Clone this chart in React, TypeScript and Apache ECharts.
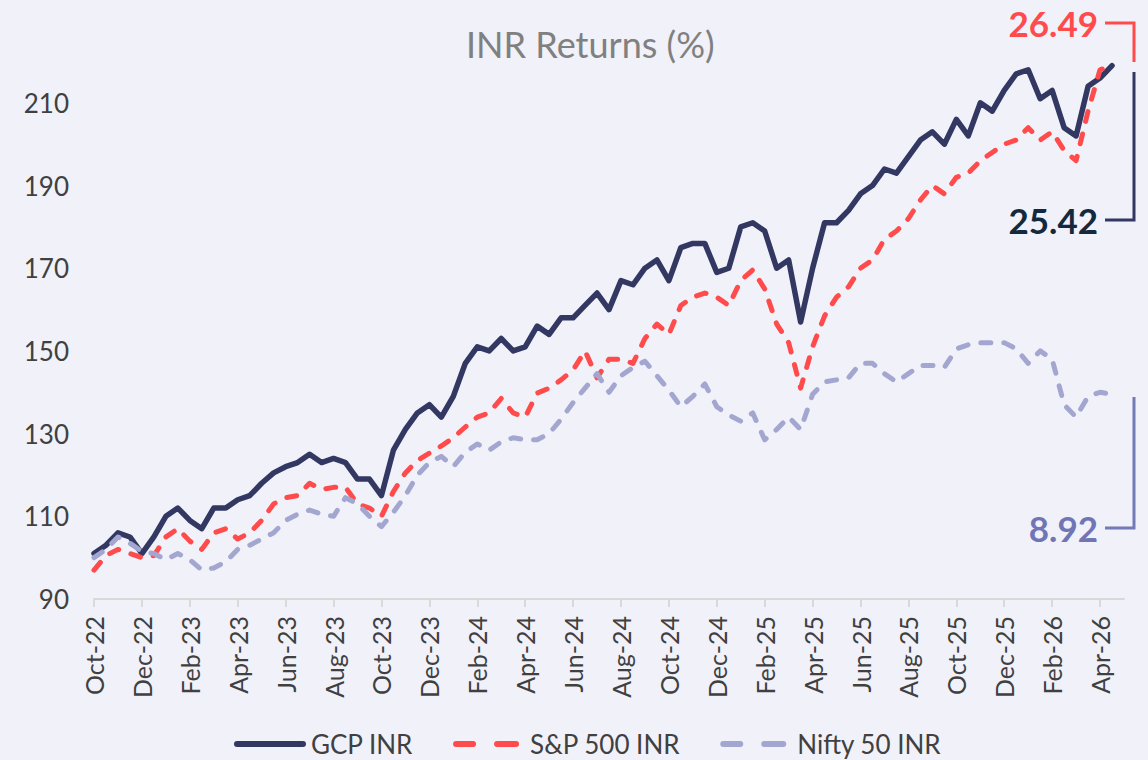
import React, { useEffect, useRef } from "react";
import * as echarts from "echarts";

// x positions: half-month steps starting Oct-2022 (index * 0.5 months)
const STEP_MONTHS = 0.5;

const gcpINR = [
  101, 103, 106, 105, 101, 105, 110, 112, 109, 107,
  112, 112, 114, 115, 118, 120.5, 122, 123, 125, 123,
  124, 123, 119, 119, 115, 126, 131, 135, 137, 134,
  139, 147, 151, 150, 153, 150, 151, 156, 154, 158,
  158, 161, 164, 160, 167, 166, 170, 172, 167, 175,
  176, 176, 169, 170, 180, 181, 179, 170, 172, 157,
  170, 181, 181, 184, 188, 190, 194, 193, 197, 201,
  203, 200, 206, 202, 210, 208, 213, 217, 218, 211,
  213, 204, 202, 214, 216, 219,
];

const sp500INR = [
  97, 100.5, 102, 101, 100, 100.5, 105, 107, 104, 102,
  106, 107, 104.5, 106, 109, 113, 114.5, 115, 118, 116.5,
  117, 117, 113, 112, 110, 116, 120.5, 123.5, 125.3, 127,
  129, 131.6, 134, 135, 138.5, 135, 134, 139.8, 141, 143,
  145.4, 150, 143.5, 148, 148, 147, 153, 156.5, 154, 161,
  163, 164, 163, 161, 167, 169.6, 165, 156.5, 152, 141,
  151, 158.5, 163, 165.5, 170, 172, 177, 179, 182, 186.5,
  190, 188, 192, 193, 196, 198, 200, 201, 204, 201,
  203, 198.5, 196, 208, 218, 219,
];

const nifty50INR = [
  100, 102, 105, 103.5, 101.5, 101, 99.5, 101, 99.5, 97,
  97.5, 99, 102, 103, 104.5, 106, 109, 110.5, 111.5, 110.5,
  110, 114.5, 113, 110, 107.5, 111, 115, 120, 123, 124.5,
  122, 125.5, 127.5, 126, 128, 129, 128.5, 128.5, 130, 133.5,
  137.5, 141, 144.5, 140, 144, 146, 147.5, 144, 140.5, 136.5,
  139, 142, 136.5, 134.5, 133, 135, 128.5, 131, 134, 131,
  139.5, 142.5, 143, 143.5, 147, 147, 144.5, 142.5, 144.5, 146.5,
  146.5, 146, 150.5, 151.5, 152, 152, 152, 150.5, 147, 150,
  148, 137, 134, 139, 140, 139.5,
];

const seriesNames = ["GCP INR", "S&P 500 INR", "Nifty 50 INR"];
const annotationTexts = ["26.49", "25.42", "8.92"];

const MONTH_NAMES = ["Jan", "Feb", "Mar", "Apr", "May", "Jun", "Jul", "Aug", "Sep", "Oct", "Nov", "Dec"];
const tickMonths: number[] = [];
for (let m = 0; m <= 42; m += 2) tickMonths.push(m);

function monthLabel(m: number): string {
  const total = 9 + Math.round(m); // months from Jan-2022
  const yr = 22 + Math.floor(total / 12);
  return MONTH_NAMES[total % 12] + "-" + yr;
}

const toPairs = (arr: number[]) => arr.map((v, i) => [i * STEP_MONTHS, v]);

const FONT = "Lato";
const C_GCP = "#333863";
const C_SP = "#FF4B4B";
const C_NIFTY = "#A3A7D0";

const ICON_SOLID = "path://M3,0H69A3,3,0,0,1,69,6H3A3,3,0,0,1,3,0Z";
const ICON_DASH =
  "path://M3,0H20A3,3,0,0,1,20,6H3A3,3,0,0,1,3,0Z M44,0H63A3,3,0,0,1,63,6H44A3,3,0,0,1,44,0Z M71.98,2.99H72V3H71.98Z";

export default function App() {
  const ref = useRef<HTMLDivElement>(null);
  useEffect(() => {
    if (!ref.current) return;
    const chart = echarts.init(ref.current, undefined, { renderer: "svg" });
    chart.setOption({
      animation: false,
      backgroundColor: "#F0F1F9",
      textStyle: { fontFamily: FONT },
      title: {
        text: "INR Returns (%)",
        left: 461,
        top: 21,
        textStyle: { fontFamily: FONT, fontSize: 36, fontWeight: "normal", color: "#808080" },
      },
      grid: { left: 94, right: 24, top: 61.5, bottom: 161, containLabel: false },
      xAxis: {
        type: "value",
        min: 0,
        max: 43,
        interval: 2,
        axisLine: { show: true, lineStyle: { color: "#D9D9D9", width: 2 } },
        axisTick: { show: true, length: 8, lineStyle: { color: "#D9D9D9", width: 2 }, customValues: tickMonths },
        splitLine: { show: false },
        axisLabel: {
          customValues: tickMonths,
          rotate: 90,
          margin: 17,
          color: "#404040",
          fontSize: 25,
          fontFamily: FONT,
          formatter: (v: number) => monthLabel(v),
        },
      },
      yAxis: {
        type: "value",
        min: 90,
        max: 220,
        interval: 20,
        axisLine: { show: false },
        axisTick: { show: false },
        splitLine: { show: false },
        axisLabel: {
          showMaxLabel: false,
          margin: 25,
          color: "#404040",
          fontSize: 26,
          fontFamily: FONT,
        },
      },
      legend: {
        left: 229,
        top: 726,
        itemWidth: 72,
        itemHeight: 6,
        itemGap: 40,
        textStyle: { fontFamily: FONT, fontSize: 26, color: "#404040" },
        data: [
          { name: seriesNames[0], icon: ICON_SOLID, itemStyle: { color: C_GCP } },
          { name: seriesNames[1], icon: ICON_DASH, itemStyle: { color: C_SP } },
          { name: seriesNames[2], icon: ICON_DASH, itemStyle: { color: C_NIFTY } },
        ],
      },
      series: [
        {
          name: seriesNames[0],
          type: "line",
          data: toPairs(gcpINR),
          showSymbol: false,
          symbol: "none",
          color: C_GCP,
          lineStyle: { color: C_GCP, width: 5.5, cap: "round", join: "round" },
        },
        {
          name: seriesNames[1],
          type: "line",
          data: toPairs(sp500INR),
          showSymbol: false,
          symbol: "none",
          color: C_SP,
          lineStyle: { color: C_SP, width: 5, type: [10, 13], cap: "round", join: "round" },
        },
        {
          name: seriesNames[2],
          type: "line",
          data: toPairs(nifty50INR),
          showSymbol: false,
          symbol: "none",
          color: C_NIFTY,
          lineStyle: { color: C_NIFTY, width: 5, type: [10, 13], cap: "round", join: "round" },
        },
      ],
      graphic: [
        {
          type: "text",
          style: { text: annotationTexts[0], x: 1098, y: 23, align: "right", verticalAlign: "middle", fontSize: 35, fontWeight: "bold", fontFamily: FONT, fill: "#FF4B4B" },
        },
        {
          type: "polyline",
          shape: { points: [[1105, 23], [1134, 23], [1134, 62]] },
          style: { stroke: "#FF4B4B", lineWidth: 3, fill: null },
        },
        {
          type: "text",
          style: { text: annotationTexts[1], x: 1098, y: 220, align: "right", verticalAlign: "middle", fontSize: 35, fontWeight: "bold", fontFamily: FONT, fill: "#13293D" },
        },
        {
          type: "polyline",
          shape: { points: [[1134, 72], [1134, 220], [1105, 220]] },
          style: { stroke: "#333863", lineWidth: 3, fill: null },
        },
        {
          type: "text",
          style: { text: annotationTexts[2], x: 1098, y: 528, align: "right", verticalAlign: "middle", fontSize: 35, fontWeight: "bold", fontFamily: FONT, fill: "#7075B5" },
        },
        {
          type: "polyline",
          shape: { points: [[1134, 397], [1134, 528], [1105, 528]] },
          style: { stroke: "#7479B8", lineWidth: 3, fill: null },
        },
      ],
    });
    return () => chart.dispose();
  }, []);
  return (
    <div
      ref={ref}
      style={{ position: "fixed", left: 0, top: 0, width: "1148px", height: "760px" }}
    />
  );
}
